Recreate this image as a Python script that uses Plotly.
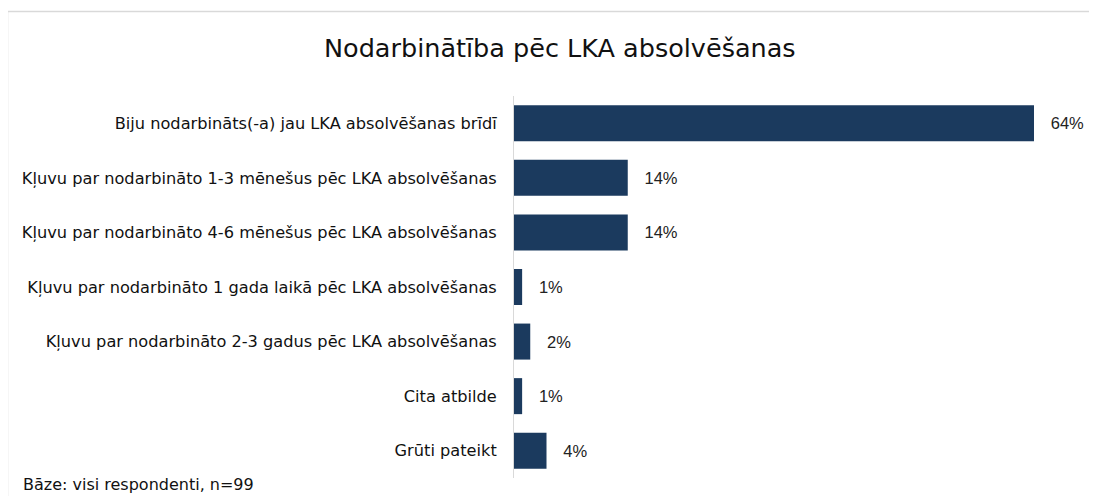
import plotly.graph_objects as go

categories = [
    "Biju nodarbināts(-a) jau LKA absolvēšanas brīdī",
    "Kļuvu par nodarbināto 1-3 mēnešus pēc LKA absolvēšanas",
    "Kļuvu par nodarbināto 4-6 mēnešus pēc LKA absolvēšanas",
    "Kļuvu par nodarbināto 1 gada laikā pēc LKA absolvēšanas",
    "Kļuvu par nodarbināto 2-3 gadus pēc LKA absolvēšanas",
    "Cita atbilde",
    "Grūti pateikt",
]
values = [64, 14, 14, 1, 2, 1, 4]
title_text = "Nodarbinātība pēc LKA absolvēšanas"
footnote = "Bāze: visi respondenti, n=99"

OFF = 8  # page body margin
W, H = 1097 - OFF, 496 - OFF
# target positions in screen pixels
AX_X = 514
BAR_END_64 = 1034
PLOT_TOP, PLOT_BOT = 96, 478

ML = AX_X - OFF
MR = 40
MT = PLOT_TOP - OFF
MB = H - (PLOT_BOT - OFF)
pw = W - ML - MR
ph = H - MT - MB
xmax = 64 * pw / (BAR_END_64 - AX_X)

def px(x):
    return (x - OFF - ML) / pw

def py(y):
    return (H - MB - (y - OFF)) / ph

bar_color = "#1b3a5e"
label_font = "DejaVu Sans, sans-serif"

fig = go.Figure()
fig.add_trace(go.Bar(
    y=categories,
    x=values,
    orientation="h",
    marker=dict(color=bar_color, line=dict(width=0)),
    text=[f"\u00a0\u00a0\u00a0{v}%" for v in values],
    textposition="outside",
    textfont=dict(family="Liberation Sans, Arial, sans-serif", size=16.5, color="#222222"),
    cliponaxis=False,
    hoverinfo="skip",
))

fig.update_layout(
    width=W, height=H,
    margin=dict(l=ML, r=MR, t=MT, b=MB, autoexpand=False),
    paper_bgcolor="white",
    plot_bgcolor="white",
    bargap=0.34,
    showlegend=False,
    uniformtext=dict(minsize=16, mode="show"),
    xaxis=dict(range=[0, xmax], visible=False, fixedrange=True),
    yaxis=dict(
        autorange="reversed",
        showline=True, linecolor="#d9d9d9", linewidth=1,
        showgrid=False, zeroline=False, ticks="",
        ticklabelstandoff=13,
        tickfont=dict(family=label_font, size=16.2, color="#111111"),
    ),
    font=dict(family=label_font),
    annotations=[
        dict(text=title_text, xref="paper", yref="paper",
             x=px(560), y=py(48), xanchor="center", yanchor="middle",
             showarrow=False,
             font=dict(family=label_font, size=25.5, color="#111111")),
        dict(text=footnote, xref="paper", yref="paper",
             x=px(21), y=py(484), xanchor="left", yanchor="middle",
             showarrow=False,
             font=dict(family=label_font, size=16, color="#111111")),
    ],
    shapes=[
        dict(type="rect", xref="paper", yref="paper",
             x0=px(7.5), x1=px(1110), y0=py(11.5), y1=py(520),
             line=dict(color="#d9d9d9", width=1.5), fillcolor="rgba(0,0,0,0)",
             layer="below"),
    ],
)

fig.write_html("out.html")
